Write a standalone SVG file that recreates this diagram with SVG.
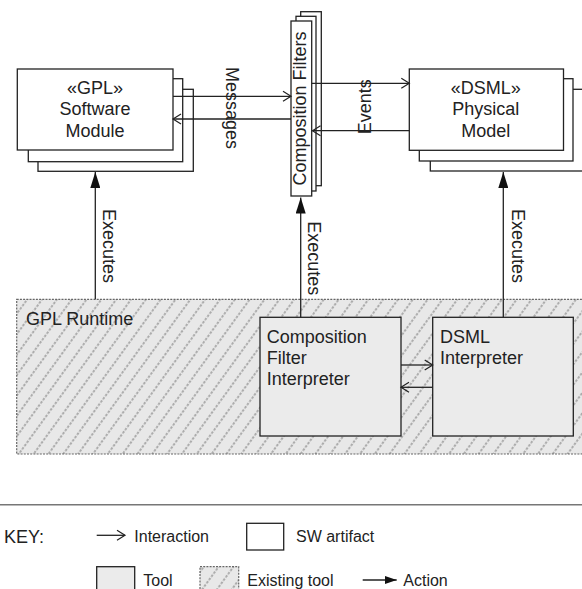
<svg xmlns="http://www.w3.org/2000/svg" width="582" height="589" viewBox="0 0 582 589">
<style>
text{font-family:"Liberation Sans",Arial,sans-serif;font-size:18px;fill:#222}
.k{font-size:16px}
.art{fill:#fff;stroke:#222;stroke-width:1.3}
.tool{fill:#ebebeb;stroke:#222;stroke-width:1.3}
.exist{fill:url(#hatch);stroke:#666;stroke-width:1.2;stroke-dasharray:2 1.2}
.ln{fill:none;stroke:#222;stroke-width:1.3}
.ia{marker-end:url(#open)}
.ac{marker-end:url(#fill)}
</style>
<defs>
<marker id="open" viewBox="0 0 8 10" refX="8" refY="5" markerWidth="8" markerHeight="10" markerUnits="userSpaceOnUse" orient="auto" overflow="visible">
<path d="M0,0 L8,5 L0,10" fill="none" stroke="#222" stroke-width="1.2"/>
</marker>
<marker id="fill" viewBox="0 0 16 10" refX="16" refY="5" markerWidth="16" markerHeight="10" markerUnits="userSpaceOnUse" orient="auto">
<path d="M0,0 L16,5 L0,10 z" fill="#111"/>
</marker>
<marker id="fillk" viewBox="0 0 12 8" refX="12" refY="4" markerWidth="12" markerHeight="8" markerUnits="userSpaceOnUse" orient="auto">
<path d="M0,0 L12,4 L0,8 z" fill="#111"/>
</marker>
<pattern id="hatch" width="12" height="12" patternUnits="userSpaceOnUse" patternTransform="rotate(36)">
<rect width="12" height="12" fill="#e8e8e8"/>
<line x1="6" y1="0" x2="6" y2="12" stroke="#707070" stroke-width="1" stroke-dasharray="2.5 1.5"/>
</pattern>
</defs>

<g id="gpl-runtime">
<rect class="exist" x="16.7" y="299.3" width="580" height="154.7"/>
<text x="26" y="325">GPL Runtime</text>
</g>

<g id="gpl-module">
<rect class="art" x="38" y="89.3" width="155.3" height="82"/>
<rect class="art" x="28.3" y="78.7" width="154.4" height="83"/>
<rect class="art" x="17.3" y="69" width="155.7" height="81"/>
<text x="95" y="94" text-anchor="middle">«GPL»</text>
<text x="95" y="115.3" text-anchor="middle">Software</text>
<text x="95" y="136.7" text-anchor="middle">Module</text>
</g>

<g id="composition-filters">
<rect class="art" x="300.7" y="11.7" width="20.6" height="174"/>
<rect class="art" x="296" y="16.3" width="20" height="174.7"/>
<rect class="art" x="291" y="21" width="20.7" height="175"/>
<text transform="translate(306.3,108.5) rotate(-90)" text-anchor="middle">Composition Filters</text>
</g>

<g id="dsml-model">
<rect class="art" x="430.3" y="89.3" width="170" height="81.7"/>
<rect class="art" x="419.3" y="78.7" width="153.7" height="82.3"/>
<rect class="art" x="409.3" y="69" width="154.2" height="81.3"/>
<text x="485.7" y="94" text-anchor="middle">«DSML»</text>
<text x="485.7" y="115.3" text-anchor="middle">Physical</text>
<text x="485.7" y="136.7" text-anchor="middle">Model</text>
</g>

<g id="cf-interpreter">
<rect class="tool" x="260" y="317.3" width="141" height="118.7"/>
<text x="266.7" y="342.5">Composition</text>
<text x="266.7" y="363.5">Filter</text>
<text x="266.7" y="384.5">Interpreter</text>
</g>

<g id="dsml-interpreter">
<rect class="tool" x="432.7" y="317.3" width="140.6" height="118.7"/>
<text x="440" y="342.5">DSML</text>
<text x="440" y="363.5">Interpreter</text>
</g>

<g id="connectors">
<line class="ln ia" x1="173" y1="96.3" x2="291" y2="96.3"/>
<line class="ln ia" x1="291" y1="119" x2="173" y2="119"/>
<text transform="translate(226,108) rotate(90)" text-anchor="middle">Messages</text>
<line class="ln ia" x1="311.7" y1="83.3" x2="409.3" y2="83.3"/>
<line class="ln ia" x1="409.3" y1="130.7" x2="312.5" y2="130.7"/>
<text transform="translate(370.5,106.7) rotate(-90)" text-anchor="middle">Events</text>
<line class="ln ac" x1="95.3" y1="299.3" x2="95.3" y2="172"/>
<text transform="translate(102.5,246) rotate(90)" text-anchor="middle">Executes</text>
<line class="ln ac" x1="300.7" y1="317.3" x2="300.7" y2="197.5"/>
<text transform="translate(308,258.3) rotate(90)" text-anchor="middle">Executes</text>
<line class="ln ac" x1="503.3" y1="317.3" x2="503.3" y2="172"/>
<text transform="translate(512,246) rotate(90)" text-anchor="middle">Executes</text>
<line class="ln ia" x1="401" y1="365" x2="432.7" y2="365"/>
<line class="ln ia" x1="432.7" y1="387.3" x2="401" y2="387.3"/>
</g>

<g id="key">
<line x1="0" y1="504.7" x2="582" y2="504.7" stroke="#777" stroke-width="1.6"/>
<text x="4" y="543">KEY:</text>
<line class="ln ia" x1="96.7" y1="535.3" x2="125" y2="535.3"/>
<text class="k" x="134.3" y="542">Interaction</text>
<rect class="art" x="246.7" y="523.3" width="37" height="26.7"/>
<text class="k" x="296" y="542">SW artifact</text>
<rect class="tool" x="96.7" y="566.7" width="38" height="30"/>
<text class="k" x="143.3" y="586">Tool</text>
<rect class="exist" x="200" y="566.7" width="38.7" height="30"/>
<text class="k" x="247.3" y="586">Existing tool</text>
<line x1="362.7" y1="580" x2="396.7" y2="580" stroke="#222" stroke-width="1.3" marker-end="url(#fillk)"/>
<text class="k" x="403.3" y="586">Action</text>
</g>
</svg>
